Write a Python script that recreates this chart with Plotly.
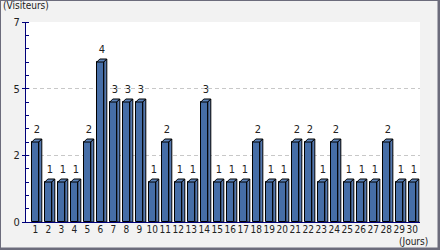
import plotly.graph_objects as go

days = list(range(1, 31))
visitors = [2, 1, 1, 1, 2, 4, 3, 3, 3, 1, 2, 1, 1, 3, 1, 1, 1, 2, 1, 1,
            2, 2, 1, 2, 1, 1, 1, 2, 1, 1]
y_tick_labels = ["0", "2", "5", "7"]
x_title = "(Jours)"
y_title = "(Visiteurs)"

FONT = "DejaVu Sans Condensed, Liberation Sans Narrow, sans-serif"
W, H = 440, 250
ML, MR, MT, MB = 26, 20, 22, 28
PW, PH = W - ML - MR, H - MT - MB

y_max = 5.0
x_range = [0.285, 30.59]
px_per_x = PW / (x_range[1] - x_range[0])
px_per_y = PH / y_max
bar_w = 7 / px_per_x
dx = 3 / px_per_x
dy = 3 / px_per_y
hw = bar_w / 2
label_gap = 3 / px_per_y

FRONT = "#466ea7"
TOP = "#5d84bb"
SIDE = "#5579b0"
NAVY = "#00007a"
TXT = "#222222"

def px2paper_x(p):
    return (p - ML) / PW

def px2paper_y(p):
    return (MT + PH - p) / PH

shapes = [
    dict(type="rect", xref="paper", yref="paper", layer="below",
         x0=px2paper_x(1), x1=px2paper_x(437.5), y0=px2paper_y(247.5), y1=px2paper_y(1),
         fillcolor="#f2f2f2", line=dict(width=0)),
    dict(type="rect", xref="paper", yref="paper", layer="below",
         x0=0, x1=1, y0=0, y1=1, fillcolor="white", line=dict(width=0)),
]
for d, v in zip(days, visitors):
    top = (f"M {d-hw} {v} L {d-hw+dx} {v+dy} L {d+hw+dx} {v+dy} L {d+hw} {v} Z")
    side = (f"M {d+hw} 0 L {d+hw} {v} L {d+hw+dx} {v+dy} L {d+hw+dx} 0 Z")
    shapes.append(dict(type="path", xref="x", yref="y", path=top,
                       fillcolor=TOP, line=dict(color="black", width=1)))
    shapes.append(dict(type="path", xref="x", yref="y", path=side,
                       fillcolor=SIDE, line=dict(color="black", width=1)))

fig = go.Figure()
fig.add_trace(go.Bar(x=days, y=visitors, width=bar_w,
                     marker=dict(color=FRONT, line=dict(color="black", width=1)),
                     hoverinfo="skip"))
fig.add_trace(go.Scatter(x=[d + dx / 2 for d in days],
                         y=[v + dy + label_gap for v in visitors],
                         mode="text", text=[str(v) for v in visitors],
                         textposition="top center",
                         textfont=dict(family=FONT, size=11, color=TXT),
                         cliponaxis=False, hoverinfo="skip"))

tickvals = [y_max * i / (len(y_tick_labels) - 1) for i in range(len(y_tick_labels))]
minor_vals = [y_max * i / 15 for i in range(16)]

fig.update_layout(
    width=W, height=H, margin=dict(l=ML, r=MR, t=MT, b=MB, pad=0),
    paper_bgcolor="#6c6c7c", plot_bgcolor="white",
    showlegend=False, bargap=0,
    font=dict(family=FONT, size=10, color=TXT),
    shapes=shapes,
    xaxis=dict(range=x_range, tickmode="array", tickvals=days,
               ticktext=[str(d) for d in days], ticks="", showgrid=False,
               tickangle=0, ticklabelstandoff=-2,
               showline=True, linecolor=NAVY, linewidth=1, zeroline=False,
               tickfont=dict(family=FONT, size=10, color=TXT)),
    yaxis=dict(range=[0, y_max], tickmode="array", tickvals=tickvals,
               ticktext=y_tick_labels, ticks="outside", ticklen=3,
               tickcolor=NAVY, showline=True, linecolor=NAVY, linewidth=1,
               showgrid=True, gridcolor="#c8c8c8", griddash="4px,3px", gridwidth=1,
               zeroline=False,
               minor=dict(tickmode="array", tickvals=minor_vals, ticks="inside",
                          ticklen=3, tickcolor=NAVY, showgrid=False),
               tickfont=dict(family=FONT, size=11, color=TXT)),
    annotations=[
        dict(text=x_title, xref="paper", yref="paper", x=px2paper_x(430),
             y=px2paper_y(241), xanchor="right", yanchor="middle", showarrow=False,
             font=dict(family=FONT, size=10, color=TXT)),
        dict(text=y_title, xref="paper", yref="paper", x=px2paper_x(1),
             y=px2paper_y(6), xanchor="left", yanchor="middle", showarrow=False,
             font=dict(family=FONT, size=10, color=TXT)),
    ],
)

fig.write_html("out.html")
